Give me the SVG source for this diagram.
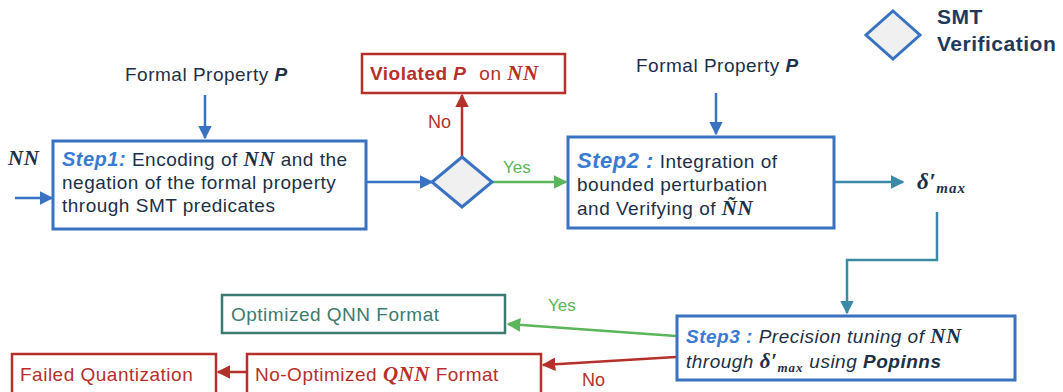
<svg xmlns="http://www.w3.org/2000/svg" width="1063" height="392" viewBox="0 0 1063 392">
<style>
text{font-family:"Liberation Sans",Arial,sans-serif;letter-spacing:0.5px;}
.box{fill:#fff;stroke:#3a72c2;stroke-width:3;}
.dia{fill:#f0f0f0;stroke:#3a72c2;stroke-width:3;}
.dark{fill:#1d3047;}
.step{fill:#3a7ad0;font-weight:bold;font-style:italic;}
.m{font-family:"Liberation Serif","Times New Roman",serif;font-weight:bold;font-style:italic;font-size:21px;}
.red{fill:#b5302a;}
.blueL{stroke:#3a72c2;stroke-width:2.5;fill:none;}
.redL{stroke:#b5302a;stroke-width:2.5;fill:none;}
.greenL{stroke:#5bb55a;stroke-width:2.5;fill:none;}
.tealL{stroke:#3a89a6;stroke-width:2.5;fill:none;}
</style>
<defs>
<marker id="ab" viewBox="0 0 10 10" refX="9" refY="5" markerWidth="5.5" markerHeight="5.5" orient="auto"><path d="M0,0L10,5L0,10z" fill="#3a72c2"/></marker>
<marker id="ar" viewBox="0 0 10 10" refX="9" refY="5" markerWidth="5.5" markerHeight="5.5" orient="auto"><path d="M0,0L10,5L0,10z" fill="#b5302a"/></marker>
<marker id="ag" viewBox="0 0 10 10" refX="9" refY="5" markerWidth="5.5" markerHeight="5.5" orient="auto"><path d="M0,0L10,5L0,10z" fill="#5bb55a"/></marker>
<marker id="at" viewBox="0 0 10 10" refX="9" refY="5" markerWidth="5.5" markerHeight="5.5" orient="auto"><path d="M0,0L10,5L0,10z" fill="#3a89a6"/></marker>
</defs>

<g id="connectors">
<line class="blueL" x1="15" y1="198" x2="52" y2="198" marker-end="url(#ab)"/>
<line class="blueL" x1="205" y1="95" x2="205" y2="138" marker-end="url(#ab)"/>
<line class="blueL" x1="366" y1="182" x2="432" y2="182" marker-end="url(#ab)"/>
<line class="redL" x1="462" y1="157" x2="462" y2="95" marker-end="url(#ar)"/>
<line class="greenL" x1="492" y1="182" x2="566" y2="182" marker-end="url(#ag)"/>
<line class="blueL" x1="716" y1="93" x2="716" y2="134" marker-end="url(#ab)"/>
<line class="tealL" x1="834" y1="182" x2="903" y2="182" marker-end="url(#at)"/>
<polyline class="tealL" points="937,212 937,260 847,260 847,313" marker-end="url(#at)"/>
<line class="greenL" x1="676" y1="336" x2="508" y2="324" marker-end="url(#ag)"/>
<line class="redL" x1="676" y1="357" x2="543" y2="365" marker-end="url(#ar)"/>
<line class="redL" x1="246" y1="372" x2="218" y2="372" marker-end="url(#ar)"/>
<text x="428" y="128" class="red" font-size="18" style="letter-spacing:0">No</text>
<text x="503" y="173" fill="#5bb55a" font-size="17" style="letter-spacing:0">Yes</text>
<text x="548" y="311" fill="#5bb55a" font-size="17" style="letter-spacing:0">Yes</text>
<text x="582" y="386" class="red" font-size="18" style="letter-spacing:0">No</text>
</g>

<g id="nn-input">
<text x="8" y="165" class="m dark">NN</text>
</g>

<g id="formal-property-1">
<text x="125" y="81" class="dark" font-size="19">Formal Property <tspan font-weight="bold" font-style="italic">P</tspan></text>
</g>

<g id="step1">
<rect class="box" x="53" y="141" width="313" height="88"/>
<text x="62" y="166" font-size="19"><tspan class="step" font-size="20">Step1:</tspan><tspan class="dark"> Encoding of </tspan><tspan class="m dark">NN</tspan><tspan class="dark"> and the</tspan></text>
<text x="62" y="189" class="dark" font-size="19">negation of the formal property</text>
<text x="62" y="212" class="dark" font-size="19">through SMT predicates</text>
</g>

<g id="decision">
<polygon class="dia" points="462,157 492,182 462,207 432,182"/>
</g>

<g id="violated">
<rect x="362" y="54" width="203" height="39" fill="#fff" stroke="#b5302a" stroke-width="2.5"/>
<text x="370" y="80" class="red" font-size="19"><tspan font-weight="bold">Violated </tspan><tspan font-weight="bold" font-style="italic">P</tspan><tspan dx="7"> on </tspan><tspan class="m">NN</tspan></text>
</g>

<g id="formal-property-2">
<text x="636" y="72" class="dark" font-size="19">Formal Property <tspan font-weight="bold" font-style="italic">P</tspan></text>
</g>

<g id="step2">
<rect class="box" x="568" y="137" width="266" height="91"/>
<text x="577" y="168" font-size="19"><tspan class="step" font-size="22">Step2 :</tspan><tspan class="dark"> Integration of</tspan></text>
<text x="577" y="191" class="dark" font-size="19">bounded perturbation</text>
<text x="577" y="215" class="dark" font-size="19">and Verifying of <tspan class="m">ÑN</tspan></text>
</g>

<g id="delta-max">
<text x="917" y="189" class="m dark" style="font-size:23px">δ′<tspan style="font-size:15px;letter-spacing:1px" dy="4">max</tspan></text>
</g>

<g id="step3">
<rect class="box" x="677" y="316" width="338" height="64"/>
<text x="686" y="343" font-size="19"><tspan class="step">Step3 :</tspan><tspan class="dark" font-style="italic"> Precision tuning of </tspan><tspan class="m dark">NN</tspan></text>
<text x="686" y="368" class="dark" font-size="19" font-style="italic">through <tspan class="m">δ′</tspan><tspan class="m" style="font-size:13px;letter-spacing:1px" dy="4">max</tspan><tspan dy="-4"> using </tspan><tspan font-weight="bold">Popinns</tspan></text>
</g>

<g id="optimized">
<rect x="222" y="295" width="283" height="38" fill="#fff" stroke="#3d7a70" stroke-width="2.5"/>
<text x="231" y="321" fill="#3d7a70" font-size="19">Optimized QNN Format</text>
</g>

<g id="no-optimized">
<rect x="247" y="354" width="294" height="40" fill="#fff" stroke="#b5302a" stroke-width="2.5"/>
<text x="255" y="381" class="red" font-size="19">No-Optimized <tspan class="m" font-weight="normal">QNN</tspan> Format</text>
</g>

<g id="failed">
<rect x="12" y="354" width="204" height="40" fill="#fff" stroke="#b5302a" stroke-width="2.5"/>
<text x="20" y="381" class="red" font-size="19">Failed Quantization</text>
</g>

<g id="legend">
<polygon class="dia" points="893,11 920,35 893,59 866,35"/>
<text x="937" y="24" fill="#1d3a5c" font-size="21" font-weight="bold">SMT</text>
<text x="937" y="51" fill="#1d3a5c" font-size="21" font-weight="bold">Verification</text>
</g>
</svg>
